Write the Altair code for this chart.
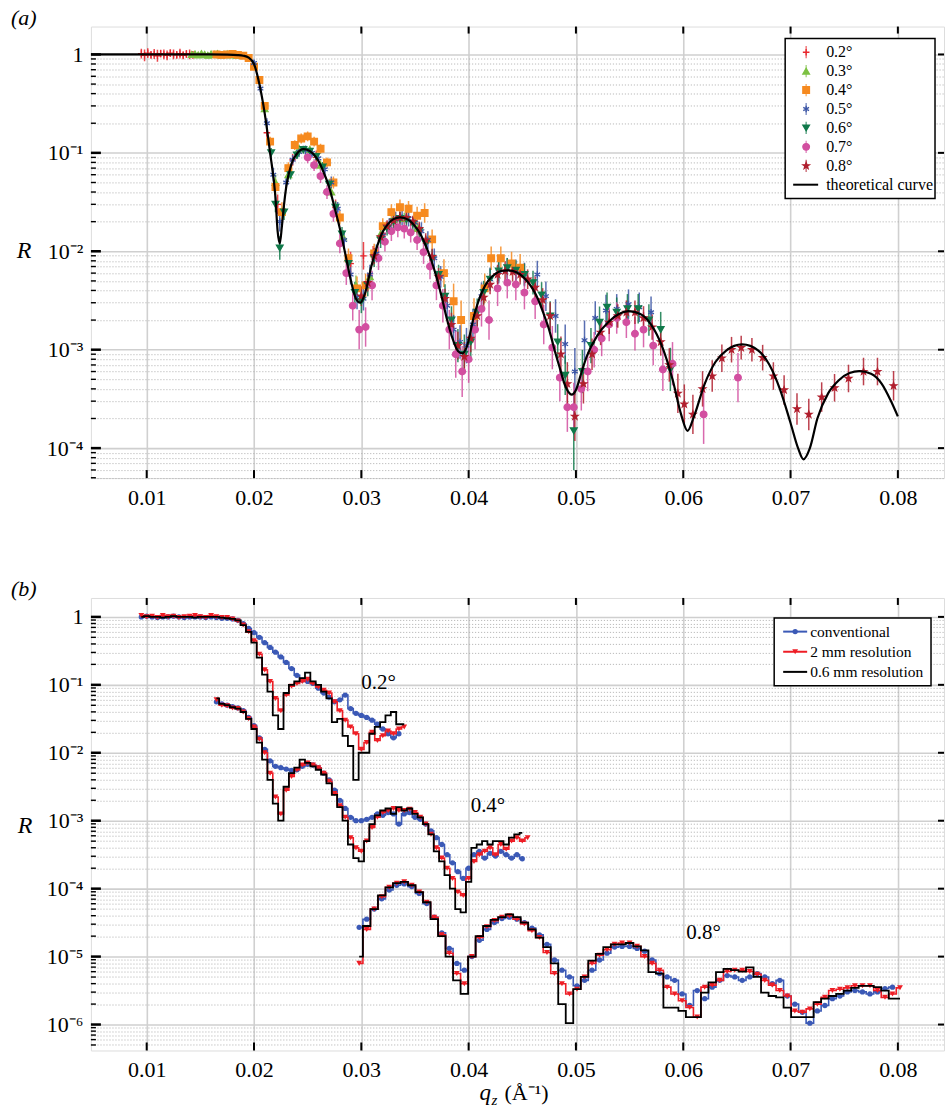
import altair as alt
import pandas as pd

FONT = "Liberation Serif"
W, HA, HB = 854, 452, 453

# ------------------------------------------------------------------ panel (a)
theory_q = [0.0048,0.0100,0.0150,0.0175,0.0185,0.0190,0.0195,0.0200,0.0205,0.0210,
            0.0215,0.0220,0.0222,0.0224,0.0226,0.0228,0.0230,0.0235,0.0240,0.0246,
            0.0250,0.0255,0.0260,0.0265,0.0270,0.0275,0.0280,0.0285,0.0290,0.0295,
            0.0299,0.0303,0.0310,0.0315,0.0320,0.0325,0.0330,0.0336,0.0340,0.0345,
            0.0350,0.0355,0.0360,0.0365,0.0370,0.0375,0.0380,0.0385,0.0390,0.0394,
            0.0398,0.0405,0.0410,0.0415,0.0420,0.0425,0.0430,0.0437,0.0445,0.0450,
            0.0455,0.0460,0.0465,0.0470,0.0475,0.0480,0.0485,0.0490,0.0496,0.0500,
            0.0505,0.0510,0.0520,0.0530,0.0540,0.0549,0.0560,0.0570,0.0580,0.0590,
            0.0598,0.0604,0.0610,0.0620,0.0630,0.0640,0.0655,0.0670,0.0680,0.0690,
            0.0700,0.0707,0.0712,0.0718,0.0725,0.0735,0.0745,0.0755,0.0764,0.0775,
            0.0785,0.0793,0.0800]
theory_R = [1.0,1.0,1.0,0.995,0.985,0.97,0.93,0.8,0.5,0.25,
            0.1,0.035,0.016,0.012,0.018,0.03,0.045,0.078,0.098,0.109,
            0.107,0.098,0.083,0.063,0.045,0.028,0.017,0.0095,0.0052,0.0033,
            0.0030,0.0036,0.0075,0.0115,0.0158,0.019,0.0212,0.0221,0.0218,0.0205,
            0.018,0.015,0.0115,0.0082,0.0055,0.0034,0.002,0.0013,0.00097,0.00092,
            0.00105,0.0022,0.0033,0.0044,0.0053,0.0059,0.0063,0.0064,0.0061,0.0056,
            0.0049,0.0041,0.0032,0.0023,0.0016,0.001,0.00065,0.00043,0.00035,0.00039,
            0.00058,0.00085,0.0014,0.0019,0.0023,0.00246,0.0023,0.0018,0.0011,0.0005,
            0.00022,0.00015,0.00021,0.00045,0.00075,0.00098,0.00113,0.00098,0.00071,0.0004,
            0.00018,0.0001,0.000077,0.0001,0.0002,0.00036,0.00049,0.00058,0.000605,0.00057,
            0.00045,0.00031,0.00021]

angles_a = ["0.2°", "0.3°", "0.4°", "0.5°", "0.6°", "0.7°", "0.8°"]
colors_a = ["#e8262d", "#7cc142", "#f68a1f", "#3b55a5", "#10794a", "#d24fa0", "#b01f2e"]
PLUS = "M-1,0L1,0M0,-1L0,1"
ASTER = "M0,-1L0,1M-0.87,-0.5L0.87,0.5M-0.87,0.5L0.87,-0.5"
STAR = ("M0,-1L0.235,-0.324L0.951,-0.309L0.38,0.124L0.588,0.809L0,0.4L-0.588,0.809"
        "L-0.38,0.124L-0.951,-0.309L-0.235,-0.324Z")
shapes_a = [PLUS, "triangle-up", "square", ASTER, "triangle-down", "circle", STAR]

q02 = [0.0095,0.0098,0.0101,0.0104,0.0107,0.0110,0.0113,0.0116,0.0119,0.0122,0.0125,0.0128,0.0131,
       0.0134,0.0137,0.0140,0.0143,0.0212,0.0222,0.0236,0.0258,0.0276,0.0290,0.0302,0.0311,0.0320]
R02 = [1.02,0.98,1.03,0.99,1.01,0.97,1.02,1.00,0.98,1.03,1.00,0.99,1.02,
       0.98,1.01,1.00,0.99,0.16,0.03,0.085,0.09,0.028,0.0075,0.009,0.009,0.015]
e02 = [0.05,0.06,0.05,0.04,0.05,0.06,0.04,0.05,0.05,0.04,0.05,0.04,0.05,
       0.04,0.04,0.05,0.04,0.05,0.10,0.06,0.07,0.08,0.12,0.14,0.10,0.09]

q03 = [0.0142,0.0145,0.0148,0.0151,0.0154,0.0157,0.0160,0.0163,0.0166,0.0169,0.0172,0.0175,0.0178,0.0181,
       0.0184,0.0210,0.0220,0.0232,0.0242,0.0252,0.0262,0.0272,0.0283,0.0295,0.0308,0.0318,0.0330,0.0340,0.0352]
R03 = [1.00,1.01,0.99,1.02,1.00,0.98,1.01,1.00,1.02,0.99,1.00,1.01,0.99,1.00,
       0.98,0.28,0.05,0.06,0.11,0.108,0.075,0.04,0.014,0.0045,0.0055,0.015,0.021,0.0215,0.017]
e03 = [0.03,0.03,0.03,0.03,0.03,0.03,0.03,0.03,0.03,0.03,0.03,0.03,0.03,0.03,
       0.03,0.04,0.08,0.05,0.04,0.04,0.05,0.05,0.07,0.10,0.10,0.07,0.06,0.06,0.06]

q04 = [0.0165,0.0170,0.0175,0.0180,0.0185,0.0190,0.0195,0.0200,0.0205,0.0210,
       0.0215,0.0220,0.0226,0.0232,0.0238,0.0244,0.0250,0.0256,0.0262,0.0268,
       0.0274,0.0280,0.0288,0.0296,0.0304,0.0312,0.0320,0.0328,0.0336,0.0344,
       0.0352,0.0359,0.0366,0.0377,0.0386,0.0393,0.0405,0.0415,0.0421,0.0430,0.0440,0.0448]
R04 = [1.0,0.99,1.0,1.01,0.99,0.97,0.92,0.75,0.55,0.3,
       0.13,0.045,0.025,0.07,0.12,0.14,0.147,0.13,0.11,0.08,
       0.05,0.022,0.0085,0.0042,0.0045,0.0095,0.018,0.025,0.028,0.027,
       0.023,0.0245,0.0132,0.006,0.0031,0.002,0.0022,0.0042,0.0085,0.0085,0.0075,0.0068]
e04 = [0.03,0.03,0.03,0.03,0.03,0.03,0.03,0.03,0.04,0.04,
       0.05,0.08,0.10,0.06,0.05,0.05,0.05,0.05,0.05,0.05,
       0.06,0.07,0.10,0.12,0.12,0.10,0.08,0.08,0.08,0.08,
       0.09,0.10,0.10,0.14,0.18,0.20,0.18,0.15,0.12,0.12,0.12,0.14]

q05 = [0.0200,0.0206,0.0212,0.0218,0.0224,0.0230,0.0236,0.0242,0.0248,0.0254,
       0.0260,0.0266,0.0272,0.0278,0.0284,0.0290,0.0296,0.0302,0.0308,0.0314,
       0.0320,0.0326,0.0332,0.0338,0.0344,0.0350,0.0356,0.0362,0.0368,0.0374,
       0.0380,0.0386,0.0392,0.0398,0.0404,0.0412,0.0420,0.0428,0.0436,0.0444,
       0.0452,0.0464,0.0472,0.0481,0.0490,0.0499,0.0508,0.0518,0.0528,0.0538,
       0.0549,0.0559,0.0570]
R05 = [0.82,0.45,0.2,0.06,0.02,0.05,0.085,0.102,0.106,0.1,
       0.088,0.068,0.05,0.027,0.013,0.0058,0.0034,0.0033,0.0058,0.0095,
       0.0145,0.018,0.021,0.022,0.0215,0.0195,0.016,0.013,0.0085,0.0055,
       0.0028,0.0016,0.0012,0.0011,0.0018,0.0035,0.0052,0.0062,0.0066,0.0064,
       0.0058,0.0058,0.0035,0.0022,0.00114,0.0006,0.00125,0.0021,0.0025,0.0026,
       0.0029,0.0027,0.0024]
e05 = [0.03,0.04,0.05,0.07,0.10,0.06,0.05,0.05,0.05,0.05,
       0.05,0.06,0.06,0.07,0.08,0.10,0.12,0.12,0.10,0.09,
       0.08,0.08,0.08,0.08,0.08,0.08,0.09,0.09,0.10,0.11,
       0.13,0.15,0.17,0.18,0.16,0.14,0.12,0.12,0.11,0.11,
       0.12,0.14,0.15,0.17,0.20,0.24,0.20,0.17,0.16,0.15,
       0.15,0.15,0.16]

q06 = [0.0216,0.0220,0.0224,0.0228,0.0234,0.0240,0.0246,0.0252,0.0258,0.0264,
       0.0270,0.0276,0.0282,0.0288,0.0294,0.0300,0.0306,0.0312,0.0318,0.0324,
       0.0330,0.0336,0.0342,0.0348,0.0354,0.0360,0.0366,0.0372,0.0378,0.0384,
       0.0390,0.0396,0.0402,0.0408,0.0414,0.0420,0.0428,0.0436,0.0444,0.0452,
       0.0460,0.0468,0.0476,0.0483,0.0490,0.0498,0.0506,0.0514,0.0522,0.0529,
       0.0538,0.0548,0.0558,0.0568,0.0579,0.0588]
R06 = [0.1,0.03,0.0108,0.025,0.06,0.095,0.108,0.104,0.092,0.072,
       0.048,0.028,0.015,0.0075,0.0038,0.0031,0.0045,0.0085,0.013,0.017,
       0.02,0.0215,0.021,0.019,0.016,0.012,0.0085,0.0058,0.0035,0.002,
       0.0011,0.0009,0.0012,0.0024,0.0038,0.0052,0.0063,0.0068,0.0064,0.0058,
       0.0048,0.0036,0.0022,0.0012,0.00055,0.00015,0.0006,0.0011,0.0019,0.0027,
       0.0024,0.0026,0.0026,0.002,0.0016,0.00063]
e06 = [0.05,0.08,0.12,0.08,0.05,0.04,0.04,0.04,0.04,0.05,
       0.05,0.06,0.07,0.09,0.11,0.12,0.11,0.09,0.08,0.07,
       0.07,0.07,0.07,0.07,0.08,0.08,0.09,0.10,0.12,0.14,
       0.17,0.20,0.17,0.14,0.12,0.11,0.10,0.10,0.10,0.11,
       0.12,0.13,0.15,0.18,0.20,0.40,0.22,0.18,0.16,0.15,
       0.15,0.15,0.15,0.16,0.18,0.22]

q07 = [0.0250,0.0256,0.0262,0.0268,0.0274,0.0280,0.0286,0.0292,0.0298,0.0304,
       0.0310,0.0316,0.0322,0.0328,0.0334,0.0340,0.0346,0.0352,0.0358,0.0364,
       0.0370,0.0376,0.0382,0.0388,0.0394,0.0400,0.0406,0.0412,0.0419,0.0427,
       0.0436,0.0444,0.0452,0.0462,0.0470,0.0478,0.0485,0.0492,0.0498,0.0505,
       0.0511,0.0517,0.0524,0.0531,0.0538,0.0547,0.0555,0.0563,0.0572,0.0581,
       0.0590,0.0619,0.0651]
R07 = [0.09,0.075,0.058,0.04,0.024,0.012,0.006,0.0028,0.0016,0.0017,
       0.0045,0.0085,0.0125,0.016,0.0175,0.017,0.0155,0.013,0.0098,0.007,
       0.0045,0.0028,0.0016,0.0009,0.0006,0.0008,0.0016,0.0026,0.002,0.0042,
       0.0048,0.0046,0.0038,0.0031,0.0018,0.00105,0.00052,0.00026,0.00026,0.0004,
       0.0006,0.001,0.0013,0.0018,0.0021,0.0019,0.00145,0.0016,0.0011,0.00063,
       0.00072,0.00022,0.00052]
e07 = [0.06,0.06,0.07,0.07,0.08,0.10,0.12,0.15,0.20,0.20,
       0.15,0.12,0.10,0.10,0.10,0.10,0.10,0.10,0.12,0.13,
       0.15,0.17,0.20,0.24,0.26,0.24,0.20,0.18,0.20,0.18,
       0.16,0.16,0.17,0.18,0.20,0.22,0.24,0.25,0.25,0.22,
       0.20,0.18,0.18,0.17,0.16,0.16,0.17,0.18,0.20,0.22,
       0.22,0.30,0.25]

q08 = [0.0300,0.0306,0.0312,0.0318,0.0324,0.0330,0.0336,0.0342,0.0348,0.0354,
       0.0360,0.0366,0.0372,0.0378,0.0384,0.0390,0.0396,0.0402,0.0408,0.0414,
       0.0420,0.0427,0.0434,0.0441,0.0448,0.0455,0.0462,0.0469,0.0476,0.0486,
       0.0492,0.0499,0.0507,0.0515,0.0523,0.0531,0.0539,0.0547,0.0555,0.0563,
       0.0571,0.0579,0.0587,0.0595,0.0601,0.0609,0.0618,0.0627,0.0636,0.0645,
       0.0654,0.0664,0.0674,0.0684,0.0694,0.0706,0.0717,0.0729,0.0741,0.0754,
       0.0768,0.0781,0.0796]
R08 = [0.0035,0.0048,0.009,0.014,0.018,0.0205,0.022,0.022,0.02,0.017,
       0.013,0.0088,0.0055,0.0033,0.0018,0.0011,0.00085,0.0013,0.0022,0.0034,
       0.0046,0.0058,0.0063,0.0062,0.0058,0.0052,0.0043,0.0032,0.0022,0.0009,
       0.00045,0.00021,0.00045,0.0009,0.0015,0.0019,0.0022,0.0024,0.0024,0.0021,
       0.0017,0.0012,0.0007,0.00036,0.00028,0.00022,0.0004,0.00054,0.00082,0.001,
       0.00105,0.001,0.00083,0.00054,0.00039,0.00025,0.00022,0.00033,0.00041,0.00051,
       0.0006,0.0006,0.00043]
e08 = [0.10,0.09,0.08,0.07,0.06,0.06,0.06,0.06,0.06,0.07,
       0.07,0.08,0.09,0.10,0.12,0.14,0.15,0.14,0.12,0.10,
       0.10,0.10,0.10,0.10,0.10,0.10,0.11,0.12,0.14,0.18,
       0.22,0.25,0.20,0.16,0.13,0.12,0.12,0.12,0.12,0.12,
       0.13,0.14,0.17,0.20,0.20,0.20,0.18,0.16,0.14,0.13,
       0.12,0.12,0.13,0.14,0.15,0.16,0.16,0.15,0.14,0.14,
       0.14,0.14,0.15]

# ------------------------------------------------------------------ panel (b)
methods_b = ["conventional", "2 mm resolution", "0.6 mm resolution"]
colors_b = ["#3b59b6", "#ee1d25", "#000000"]

q_b02 = [0.0095,0.0100,0.0105,0.0110,0.0115,0.0120,0.0125,0.0130,0.0135,0.0140,
         0.0145,0.0150,0.0155,0.0160,0.0165,0.0170,0.0175,0.0180,0.0185,0.0190,
         0.0195,0.0200,0.0205,0.0210,0.0215,0.0220,0.0225,0.0230,0.0235,0.0240,
         0.0245,0.0250,0.0255,0.0260,0.0265,0.0270,0.0275,0.0280,0.0285,0.0290,
         0.0295,0.0300,0.0305,0.0310,0.0315,0.0320,0.0325,0.0330,0.0335,0.0340]
# log10(R)
conv_b02 = [0.0,0.01,0.0,-0.01,0.0,0.0,0.01,0.0,-0.01,0.0,
            0.0,0.0,-0.01,0.0,-0.01,-0.02,-0.02,-0.03,-0.05,-0.10,
            -0.17,-0.23,-0.30,-0.38,-0.45,-0.52,-0.59,-0.67,-0.76,-0.86,
            -0.93,-0.95,-0.98,-1.05,-1.12,-1.18,-1.25,-1.22,-1.15,-1.35,
            -1.42,-1.45,-1.48,-1.52,-1.58,-1.65,-1.72,-1.78,-1.72,None]
r2_b02 = [0.02,0.0,0.01,-0.01,0.02,0.0,0.01,-0.01,0.0,0.01,
          0.02,0.0,-0.01,0.02,0.0,-0.01,-0.01,-0.03,-0.06,-0.12,
          -0.22,-0.35,-0.55,-0.78,-0.95,-1.2,-1.38,-1.15,-1.02,-0.98,
          -0.95,-0.92,-0.98,-1.03,-1.08,-1.12,-1.25,-1.38,-1.52,-1.62,
          -1.72,-1.95,-1.85,-1.7,-1.82,-1.75,-1.68,-1.72,-1.65,-1.62]
r06_b02 = [0.0,0.01,0.0,0.0,-0.01,0.0,0.01,0.0,0.0,0.0,
           -0.01,0.0,0.0,0.0,0.0,-0.01,-0.02,-0.03,-0.05,-0.12,
           -0.22,-0.38,-0.6,-0.85,-1.1,-1.45,-1.65,-1.12,-1.0,-0.95,
           -0.9,-0.82,-0.95,-1.0,-1.1,-1.2,-1.55,-1.5,-1.75,-1.9,
           -2.4,-2.0,-2.0,-1.72,-1.62,-1.55,-1.45,-1.4,-1.58,-1.58]

q_b04 = [0.0165,0.0170,0.0175,0.0180,0.0185,0.0190,0.0195,0.0200,0.0205,0.0210,
         0.0215,0.0220,0.0225,0.0230,0.0235,0.0240,0.0245,0.0250,0.0255,0.0260,
         0.0265,0.0270,0.0275,0.0280,0.0285,0.0290,0.0295,0.0300,0.0305,0.0310,
         0.0315,0.0320,0.0325,0.0330,0.0335,0.0340,0.0345,0.0350,0.0355,0.0360,
         0.0365,0.0370,0.0375,0.0380,0.0385,0.0390,0.0395,0.0400,0.0405,0.0410,
         0.0415,0.0420,0.0425,0.0430,0.0435,0.0440,0.0445,0.0450,0.0455]
conv_b04 = [-1.25,-1.28,-1.3,-1.32,-1.34,-1.38,-1.48,-1.6,-1.78,-1.95,
            -2.12,-2.2,-2.22,-2.24,-2.26,-2.25,-2.2,-2.17,-2.18,-2.22,
            -2.3,-2.4,-2.55,-2.7,-2.82,-2.95,-3.0,-3.0,-2.98,-2.95,
            -2.9,-2.92,-2.88,-2.9,-3.05,-2.9,-2.88,-2.95,-2.98,-3.05,
            -3.15,-3.25,-3.35,-3.5,-3.62,-3.75,-3.85,-3.7,-3.5,-3.45,
            -3.55,-3.48,-3.52,-3.45,-3.5,-3.55,-3.5,-3.56,None]
r2_b04 = [-1.22,-1.3,-1.31,-1.34,-1.35,-1.4,-1.5,-1.62,-1.8,-2.0,
          -2.3,-2.65,-2.9,-2.55,-2.35,-2.25,-2.18,-2.15,-2.18,-2.22,
          -2.3,-2.42,-2.6,-2.78,-2.95,-3.25,-3.4,-3.45,-3.3,-3.1,
          -2.95,-2.88,-2.85,-2.82,-2.85,-2.85,-2.83,-2.88,-2.95,-3.05,
          -3.2,-3.4,-3.55,-3.7,-3.85,-4.05,-4.1,-3.85,-3.6,-3.5,
          -3.45,-3.4,-3.5,-3.35,-3.42,-3.3,-3.25,-3.3,-3.25]
r06_b04 = [-1.2,-1.28,-1.3,-1.33,-1.35,-1.4,-1.5,-1.65,-1.85,-2.1,
           -2.4,-2.75,-3.0,-2.5,-2.3,-2.22,-2.1,-2.15,-2.2,-2.25,
           -2.32,-2.45,-2.62,-2.8,-3.0,-3.35,-3.55,-3.6,-3.3,-3.05,
           -2.92,-2.85,-2.82,-2.9,-2.8,-2.85,-2.82,-2.9,-2.95,-3.05,
           -3.2,-3.45,-3.6,-3.8,-4.0,-4.3,-4.35,-3.9,-3.4,-3.35,
           -3.3,-3.35,-3.3,-3.3,-3.35,-3.25,-3.2,-3.18,None]

q_b08 = [0.0298,0.0305,0.0312,0.0319,0.0326,0.0333,0.0340,0.0347,0.0354,0.0361,
         0.0368,0.0375,0.0382,0.0389,0.0396,0.0403,0.0410,0.0417,0.0424,0.0431,
         0.0438,0.0445,0.0452,0.0459,0.0466,0.0473,0.0480,0.0487,0.0494,0.0501,
         0.0508,0.0515,0.0522,0.0529,0.0536,0.0543,0.0550,0.0557,0.0564,0.0571,
         0.0578,0.0585,0.0592,0.0599,0.0606,0.0613,0.0620,0.0627,0.0634,0.0641,
         0.0648,0.0655,0.0662,0.0669,0.0676,0.0683,0.0690,0.0697,0.0704,0.0711,
         0.0718,0.0725,0.0732,0.0739,0.0746,0.0753,0.0760,0.0767,0.0774,0.0781,
         0.0788,0.0795,0.0802]
conv_b08 = [-4.57,-4.45,-4.3,-4.15,-4.02,-3.95,-3.93,-3.97,-4.07,-4.22,
            -4.42,-4.65,-4.88,-5.1,-5.2,-5.0,-4.76,-4.6,-4.5,-4.44,
            -4.42,-4.45,-4.5,-4.58,-4.68,-4.82,-5.05,-5.2,-5.3,-5.43,
            -5.35,-5.2,-5.05,-4.95,-4.86,-4.85,-4.85,-4.88,-4.92,-5.05,
            -5.25,-5.3,-5.35,-5.55,-5.72,-5.5,-5.62,-5.45,-5.35,-5.28,
            -5.3,-5.35,-5.3,-5.25,-5.3,-5.4,-5.35,-5.58,-5.7,-5.82,
            -5.98,-5.8,-5.72,-5.62,-5.58,-5.52,-5.5,-5.52,-5.55,-5.52,
            -5.47,-5.45,None]
r2_b08 = [-5.1,-4.6,-4.3,-4.12,-3.98,-3.92,-3.9,-3.95,-4.05,-4.2,
          -4.42,-4.68,-4.95,-5.25,-5.4,-5.0,-4.72,-4.56,-4.47,-4.42,
          -4.4,-4.45,-4.52,-4.62,-4.72,-4.94,-5.25,-5.4,-5.55,-5.48,
          -5.3,-5.1,-4.98,-4.9,-4.82,-4.8,-4.8,-4.85,-5.0,-5.1,
          -5.2,-5.45,-5.55,-5.65,-5.75,-5.89,-5.45,-5.42,-5.35,-5.22,
          -5.2,-5.2,-5.22,-5.26,-5.35,-5.42,-5.5,-5.58,-5.8,-5.82,
          -5.77,-5.7,-5.6,-5.5,-5.48,-5.46,-5.43,-5.43,-5.43,-5.5,
          -5.6,-5.55,-5.46]
r06_b08 = [-5.0,-4.55,-4.3,-4.1,-3.98,-3.92,-3.9,-3.95,-4.05,-4.2,
           -4.45,-4.7,-5.0,-5.35,-5.55,-5.0,-4.7,-4.55,-4.46,-4.42,
           -4.38,-4.42,-4.5,-4.6,-4.72,-4.86,-5.1,-5.7,-5.98,-5.48,
           -5.3,-5.06,-4.96,-4.86,-4.82,-4.82,-4.8,-4.85,-4.91,-5.23,
           -5.25,-5.75,-5.75,-5.8,-5.89,-5.89,-5.53,-5.38,-5.23,-5.18,
           -5.2,-5.22,-5.16,-5.3,-5.53,-5.58,-5.6,-5.75,-5.89,-5.89,
           -5.89,-5.67,-5.62,-5.58,-5.55,-5.5,-5.46,-5.43,-5.43,-5.45,
           -5.5,-5.62,-5.62]

ann_q = [0.0316, 0.0418, 0.0619]
ann_R = [0.107, 0.00166, 2.2e-5]
ann_label = ["0.2°", "0.4°", "0.8°"]

x_ticks = [0.01, 0.02, 0.03, 0.04, 0.05, 0.06, 0.07, 0.08]

# ------------------------------------------------------------------ tables
rows = []
for name, qs, Rs, es in zip(angles_a, [q02, q03, q04, q05, q06, q07, q08],
                            [R02, R03, R04, R05, R06, R07, R08],
                            [e02, e03, e04, e05, e06, e07, e08]):
    assert len(qs) == len(Rs) == len(es), name
    for q, r, e in zip(qs, Rs, es):
        rows.append({"series": name, "q": q, "R": r,
                     "lo": r / 10 ** e, "hi": r * 10 ** e})
df_a = pd.DataFrame(rows)
assert len(theory_q) == len(theory_R)
df_theory = pd.DataFrame({"q": theory_q, "R": theory_R})

rows_b = []
for grp, qs, lists in [("0.2", q_b02, [conv_b02, r2_b02, r06_b02]),
                       ("0.4", q_b04, [conv_b04, r2_b04, r06_b04]),
                       ("0.8", q_b08, [conv_b08, r2_b08, r06_b08])]:
    for m, vals in zip(methods_b, lists):
        assert len(vals) == len(qs), (grp, m)
        for q, v in zip(qs, vals):
            if v is not None:
                rows_b.append({"group": grp, "method": m, "q": q, "R": 10 ** v})
df_b = pd.DataFrame(rows_b)
df_ann = pd.DataFrame({"q": ann_q, "R": ann_R, "label": ann_label})


def decade_ticks(lo_exp, extra_low):
    major = [10.0 ** k for k in range(lo_exp, 1)]
    minor = list(extra_low)
    for k in range(lo_exp, 0):
        minor += [m * 10.0 ** k for m in range(2, 10)]
    return major, minor


ymaj_a, ymin_a = decade_ticks(-4, [5e-5, 6e-5, 7e-5, 8e-5, 9e-5])
ymaj_b, ymin_b = decade_ticks(-6, [5e-7, 6e-7, 7e-7, 8e-7, 9e-7])

L = "(log(datum.value)/LN10)"
MAJOR = f"abs({L} - round({L})) < 0.01"
sup = {0: "1", -1: "10⁻¹", -2: "10⁻²", -3: "10⁻³", -4: "10⁻⁴", -5: "10⁻⁵", -6: "10⁻⁶"}
inner = "''"
for n, s in sup.items():
    inner = f"round({L}) == {n} ? '{s}' : {inner}"
LABEL_EXPR = f"{MAJOR} ? ({inner}) : ''"


def x_axis():
    return alt.Axis(values=x_ticks, format=".2f", ticks=False, domain=False, grid=True,
                    gridColor="#d0d0d0", gridWidth=1.6, labelFont=FONT, labelFontSize=22,
                    labelPadding=9, labelColor="black", title=None, labelFlush=False)


def y_axis(vals):
    return alt.Axis(values=vals, labelExpr=LABEL_EXPR, ticks=False, domain=False, grid=True,
                    gridColor={"condition": {"test": MAJOR, "value": "#cfcfcf"}, "value": "#a9a9a9"},
                    gridDash={"condition": {"test": MAJOR, "value": [1, 0]}, "value": [1.2, 1.8]},
                    gridWidth={"condition": {"test": MAJOR, "value": 1.6}, "value": 0.8},
                    labelFont=FONT, labelFontSize=22, labelPadding=8, labelColor="black",
                    title=None, labelOverlap=False, labelFlush=False)


def frame_ticks(X, Y, ymaj, ymin, H):
    dx = pd.DataFrame({"q": x_ticks})
    dM = pd.DataFrame({"R": ymaj})
    dm = pd.DataFrame({"R": ymin})
    return [
        alt.Chart(dx).mark_rule(color="black", strokeWidth=2).encode(x=X, y=alt.value(H - 8), y2=alt.value(H)),
        alt.Chart(dx).mark_rule(color="black", strokeWidth=2).encode(x=X, y=alt.value(0), y2=alt.value(7)),
        alt.Chart(dM).mark_rule(color="black", strokeWidth=2.5).encode(y=Y, x=alt.value(0), x2=alt.value(10)),
        alt.Chart(dm).mark_rule(color="black", strokeWidth=1.4).encode(y=Y, x=alt.value(0), x2=alt.value(5)),
        alt.Chart(dM).mark_rule(color="black", strokeWidth=2).encode(y=Y, x=alt.value(W - 6), x2=alt.value(W)),
    ]


def txt(s, x, y, size=22, italic=False, align="left", baseline="alphabetic", opacity=1.0):
    return alt.Chart(pd.DataFrame({"t": [s]})).mark_text(
        font=FONT, fontSize=size, fontStyle="italic" if italic else "normal", align=align,
        baseline=baseline, color="black", opacity=opacity).encode(x=alt.value(x), y=y, text="t:N")


# ------------------------------------------------------------------ panel (a) chart
xs_a = alt.Scale(domain=[0.0048, 0.0843], nice=False, zero=False)
ys_a = alt.Scale(type="log", domain=[4.96e-5, 1.92], nice=False)
AXa = x_axis()
AYa = y_axis(ymaj_a + ymin_a)
Xa = alt.X("q:Q", scale=xs_a, axis=AXa)
Ya = alt.Y("R:Q", scale=ys_a, axis=AYa)
col_a = alt.Color("series:N", scale=alt.Scale(domain=angles_a, range=colors_a), legend=None)
str_a = alt.Stroke("series:N", scale=alt.Scale(domain=angles_a, range=colors_a), legend=None)
shp_a = alt.Shape("series:N", scale=alt.Scale(domain=angles_a, range=shapes_a), legend=None)

err_a = alt.Chart(df_a).mark_rule(strokeWidth=1.5, opacity=0.85, clip=True).encode(
    x=Xa, y=alt.Y("lo:Q", scale=ys_a, axis=AYa), y2="hi:Q", color=col_a)
pts_a = alt.Chart(df_a).mark_point(filled=True, size=44, strokeWidth=1.3, opacity=1, clip=True).encode(
    x=Xa, y=Ya, color=col_a, stroke=str_a, shape=shp_a)
theory_a = alt.Chart(df_theory).mark_line(color="black", strokeWidth=2.2, interpolate="monotone", clip=True).encode(
    x=Xa, y=Ya)
r_a = alt.Chart(pd.DataFrame({"t": ["R"]})).mark_text(
    font=FONT, fontSize=24, fontStyle="italic", align="center", baseline="middle", color="black").encode(
    x=alt.value(-67), y=alt.Y(datum=0.01, scale=ys_a, axis=AYa), text="t:N")
anchor = txt(" ", -90, alt.value(-25), size=2, baseline="top", opacity=0)
lab_a = txt("(a)", -80, alt.value(-2), size=22, italic=True)

data_a = alt.layer(err_a, pts_a, theory_a, *frame_ticks(Xa, Ya, ymaj_a, ymin_a, HA),
                   r_a, lab_a, anchor)

LYa = alt.Y("row:Q", scale=alt.Scale(domain=[0, 7], range=[25.7, 158.3], zero=False, nice=False), axis=None)
leg_rows = pd.DataFrame({"series": angles_a, "row": list(range(7))})
leg_text = pd.DataFrame({"label": angles_a + ["theoretical curve"], "row": list(range(8))})
leg_box_a = alt.Chart(pd.DataFrame({"d": [0]})).mark_rect(fill="white", stroke="black", strokeWidth=1.5).encode(
    x=alt.value(695), x2=alt.value(845), y=alt.value(12), y2=alt.value(172))
leg_err_a = alt.Chart(leg_rows).mark_point(shape="M0,-1L0,1", size=150, strokeWidth=1.3, filled=False).encode(
    x=alt.value(716), y=LYa, color=col_a)
leg_sym_a = alt.Chart(leg_rows).mark_point(filled=True, size=44, strokeWidth=1.3, opacity=1).encode(
    x=alt.value(716), y=LYa, color=col_a, stroke=str_a, shape=shp_a)
leg_txt_a = alt.Chart(leg_text).mark_text(font=FONT, fontSize=16, align="left", baseline="middle",
                                          color="black").encode(x=alt.value(736), y=LYa, text="label:N")
leg_line_a = alt.Chart(pd.DataFrame({"row": [7]})).mark_rule(color="black", strokeWidth=2).encode(
    x=alt.value(703), x2=alt.value(728), y=LYa)
legend_a = alt.layer(leg_box_a, leg_err_a, leg_sym_a, leg_txt_a, leg_line_a)

panel_a = alt.layer(data_a, legend_a).resolve_scale(y="independent").properties(width=W, height=HA)

# ------------------------------------------------------------------ panel (b) chart
xs_b = alt.Scale(domain=[0.0048, 0.0843], nice=False, zero=False)
ys_b = alt.Scale(type="log", domain=[4.15e-7, 1.9], nice=False)
AXb = x_axis()
AYb = y_axis(ymaj_b + ymin_b)
Xb = alt.X("q:Q", scale=xs_b, axis=AXb)
Yb = alt.Y("R:Q", scale=ys_b, axis=AYb)
d_conv = df_b[df_b.method == methods_b[0]]
d_r2 = df_b[df_b.method == methods_b[1]]
d_r06 = df_b[df_b.method == methods_b[2]]

conv_line = alt.Chart(d_conv).mark_line(color=colors_b[0], strokeWidth=1.6, interpolate="step", clip=True).encode(
    x=Xb, y=Yb, detail="group:N")
conv_pts = alt.Chart(d_conv).mark_point(shape="circle", filled=True, size=28, color=colors_b[0], opacity=1,
                                        clip=True).encode(x=Xb, y=Yb)
r2_line = alt.Chart(d_r2).mark_line(color=colors_b[1], strokeWidth=1.6, interpolate="step", clip=True).encode(
    x=Xb, y=Yb, detail="group:N")
r2_pts = alt.Chart(d_r2).mark_point(shape="triangle-down", filled=True, size=34, color=colors_b[1], opacity=1,
                                    clip=True).encode(x=Xb, y=Yb)
r06_line = alt.Chart(d_r06).mark_line(color="black", strokeWidth=1.8, interpolate="step", clip=True).encode(
    x=Xb, y=Yb, detail="group:N")
ann_b = alt.Chart(df_ann).mark_text(font=FONT, fontSize=21, align="center", baseline="middle",
                                    color="black").encode(x=Xb, y=Yb, text="label:N")
r_b = alt.Chart(pd.DataFrame({"t": ["R"]})).mark_text(
    font=FONT, fontSize=24, fontStyle="italic", align="center", baseline="middle", color="black", dy=5).encode(
    x=alt.value(-66), y=alt.Y(datum=0.001, scale=ys_b, axis=AYb), text="t:N")
lab_b = txt("(b)", -80, alt.value(-2), size=22, italic=True)
qz_q = txt("q", 389, alt.value(503), size=23, italic=True)
qz_z = txt("z", 401, alt.value(508), size=15, italic=True)
qz_u = txt("(Å⁻¹)", 414, alt.value(503), size=22)

data_b = alt.layer(conv_line, conv_pts, r2_line, r2_pts, r06_line,
                   *frame_ticks(Xb, Yb, ymaj_b, ymin_b, HB), ann_b, r_b, lab_b, qz_q, qz_z, qz_u)

LYb = alt.Y("row:Q", scale=alt.Scale(domain=[0, 2], range=[33.7, 74], zero=False, nice=False), axis=None)
col_b = alt.Color("method:N", scale=alt.Scale(domain=methods_b, range=colors_b), legend=None)
leg_b_rows = pd.DataFrame({"method": methods_b, "row": [0, 1, 2]})
leg_box_b = alt.Chart(pd.DataFrame({"d": [0]})).mark_rect(fill="white", stroke="black", strokeWidth=1.5).encode(
    x=alt.value(684), x2=alt.value(841), y=alt.value(20), y2=alt.value(88))
leg_line_b = alt.Chart(leg_b_rows).mark_rule(strokeWidth=2).encode(
    x=alt.value(693), x2=alt.value(717), y=LYb, color=col_b)
leg_c = alt.Chart(leg_b_rows[leg_b_rows.row == 0]).mark_point(shape="circle", filled=True, size=28, opacity=1).encode(
    x=alt.value(705), y=LYb, color=col_b)
leg_t = alt.Chart(leg_b_rows[leg_b_rows.row == 1]).mark_point(shape="triangle-down", filled=True, size=34,
                                                              opacity=1).encode(x=alt.value(705), y=LYb, color=col_b)
leg_txt_b = alt.Chart(leg_b_rows).mark_text(font=FONT, fontSize=15.5, align="left", baseline="middle",
                                            color="black").encode(x=alt.value(720), y=LYb, text="method:N")
legend_b = alt.layer(leg_box_b, leg_line_b, leg_c, leg_t, leg_txt_b)

panel_b = alt.layer(data_b, legend_b).resolve_scale(y="independent").properties(width=W, height=HB)

chart = alt.vconcat(panel_a, panel_b, spacing=120, bounds="flush").resolve_scale(
    color="independent", stroke="independent", shape="independent").properties(
    padding=0, background="white").configure_view(stroke="black", strokeWidth=1.5).configure(font=FONT)

chart.save("out.html", embed_options={"renderer": "svg", "actions": False})
